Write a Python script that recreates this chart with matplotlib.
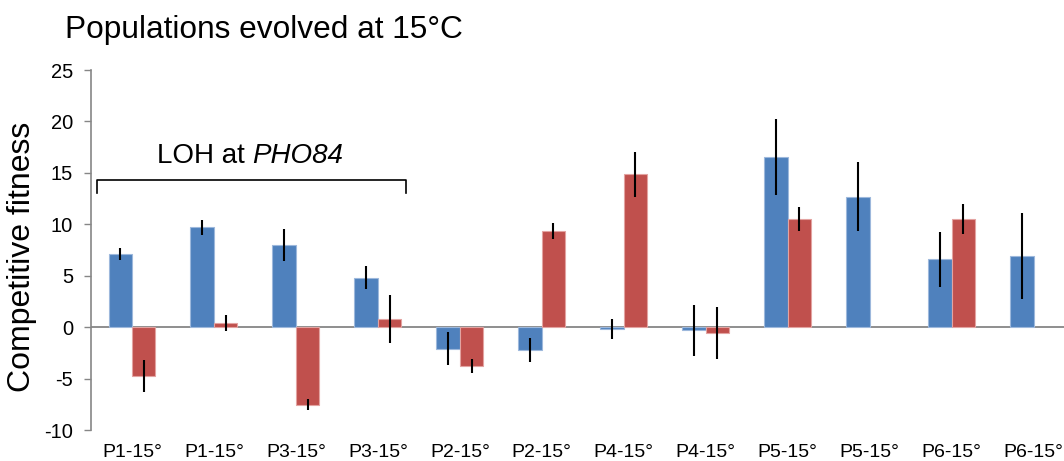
import numpy as np
import matplotlib
matplotlib.use('Agg')
import matplotlib.pyplot as plt

plt.rcParams['font.family'] = ['Liberation Sans', 'DejaVu Sans']
plt.rcParams['axes.unicode_minus'] = False

# ---- data ----
labels = ['P1-15°', 'P1-15°', 'P3-15°', 'P3-15°', 'P2-15°', 'P2-15°',
          'P4-15°', 'P4-15°', 'P5-15°', 'P5-15°', 'P6-15°', 'P6-15°']
blue_vals = [7.1, 9.7, 8.0, 4.8, -2.1, -2.2, -0.2, -0.3, 16.5, 12.7, 6.6, 6.9]
blue_err  = [0.6, 0.75, 1.55, 1.1, 1.6, 1.15, 0.95, 2.5, 3.7, 3.4, 2.65, 4.15]
red_vals  = [-4.75, 0.4, -7.55, 0.8, -3.8, 9.35, 14.85, -0.55, 10.5, np.nan, 10.5, np.nan]
red_err   = [1.6, 0.75, 0.55, 2.3, 0.7, 0.75, 2.2, 2.55, 1.15, np.nan, 1.45, np.nan]

BLUE = '#4F81BD'
RED = '#C0504D'
GRID = '#868686'
BAR_W = 0.286

x = np.arange(len(labels))

fig = plt.figure(figsize=(10.64, 4.61), dpi=100)
# axes runs past the right edge, as in the reference (last label is clipped)
ax = fig.add_axes([91 / 1064, 31 / 461, 983.5 / 1064, 360 / 461])

ax.bar(x - BAR_W / 2, blue_vals, BAR_W, color=BLUE, edgecolor='#9DB8DC', lw=0.8, zorder=2)
ax.bar(x + BAR_W / 2, red_vals, BAR_W, color=RED, edgecolor='#E3A3A1', lw=0.8, zorder=2)
ax.errorbar(x - BAR_W / 2, blue_vals, yerr=blue_err, fmt='none', ecolor='black',
            elinewidth=1.5, capsize=0, zorder=3)
ax.errorbar(x + BAR_W / 2, red_vals, yerr=red_err, fmt='none', ecolor='black',
            elinewidth=1.5, capsize=0, zorder=3)

ax.axhline(0, color=GRID, lw=1.3, zorder=1)

ax.set_xlim(-0.5, len(labels) - 0.5)
ax.set_ylim(-10, 25)
ax.set_yticks(np.arange(-10, 26, 5))
ax.set_xticks(x)
ax.set_xticklabels(labels, fontsize=14)
ax.tick_params(axis='x', length=0, pad=10)
ax.tick_params(axis='y', direction='out', length=5, width=1, color=GRID,
               labelsize=14.5, pad=8)
for side in ['top', 'right', 'bottom']:
    ax.spines[side].set_visible(False)
ax.spines['left'].set_color(GRID)
ax.spines['left'].set_linewidth(1.2)

# bracket over the PHO84 LOH populations
bx0, bx1 = 0 - 0.43, 3 + 0.34
by_top, by_bot = 14.3, 13.05
ax.plot([bx0, bx0, bx1, bx1], [by_bot, by_top, by_top, by_bot], color='black',
        lw=1.2, solid_joinstyle='round', zorder=3)
t1 = ax.text(0.30, 15.95, 'LOH at ', fontsize=20, ha='left', va='baseline')
fig.canvas.draw()
w = t1.get_window_extent().transformed(ax.transData.inverted()).width
ax.text(0.30 + w, 15.95, 'PHO84', fontsize=20, style='italic', ha='left', va='baseline')

fig.text(65 / 1064, 1 - 38 / 461, 'Populations evolved at 15°C', fontsize=22.8,
         ha='left', va='baseline')
fig.text(22.5 / 1064, 1 - 257 / 461, 'Competitive fitness', fontsize=23,
         rotation=90, ha='center', va='center')

fig.savefig('out.png', dpi=100)
